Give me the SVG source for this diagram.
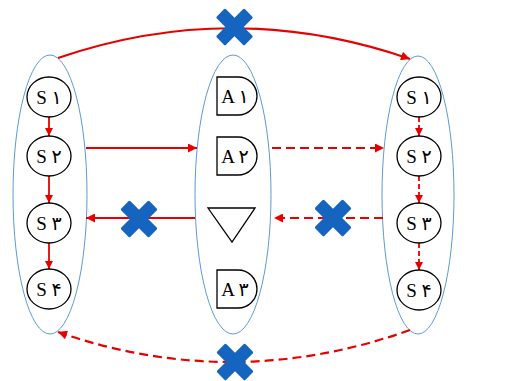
<svg xmlns="http://www.w3.org/2000/svg" width="525" height="381" viewBox="0 0 525 381">
  <style>
    .lane { fill: none; stroke: #5b9bd5; stroke-width: 1; }
    .state { fill: #fff; stroke: #000; stroke-width: 1.3; }
    .gate { fill: #fff; stroke: #000; stroke-width: 1.3; }
    .lbl { font-family: "Liberation Serif", "DejaVu Sans", serif; font-size: 19px; fill: #000; text-anchor: middle; }
    .flow { fill: none; stroke: #e60000; stroke-width: 2.2; }
    .step { fill: none; stroke: #e60000; stroke-width: 1.8; }
    .dash { stroke-dasharray: 9 5; }
    .sdash { stroke-dasharray: 5 3; }
    .cross { fill: #1565c0; }
  </style>
  <defs>
    <marker id="head" viewBox="0 0 10 10" refX="10" refY="5" markerWidth="10" markerHeight="9" markerUnits="userSpaceOnUse" orient="auto">
      <path d="M0,0 L10,5 L0,10 Z" fill="#e60000"/>
    </marker>
    <marker id="headS" viewBox="0 0 10 10" refX="10" refY="5" markerWidth="8" markerHeight="8" markerUnits="userSpaceOnUse" orient="auto">
      <path d="M0,0 L10,5 L0,10 Z" fill="#e60000"/>
    </marker>
    <g id="x">
      <rect x="-20" y="-6.5" width="40" height="13" rx="1.5" transform="rotate(45)"/>
      <rect x="-20" y="-6.5" width="40" height="13" rx="1.5" transform="rotate(-45)"/>
    </g>
  </defs>

  <!-- lanes -->
  <g id="lane-left"><ellipse class="lane" cx="50" cy="194.5" rx="37" ry="139.5"/></g>
  <g id="lane-mid"><ellipse class="lane" cx="233" cy="194.5" rx="38" ry="139.5"/></g>
  <g id="lane-right"><ellipse class="lane" cx="418" cy="195" rx="36" ry="139"/></g>

  <!-- connectors -->
  <g id="connectors">
    <path class="flow" d="M58,58 Q233,-2 410,59" marker-end="url(#head)"/>
    <path class="flow dash" d="M410,330 Q233,393 58,332" marker-end="url(#head)"/>
    <path class="flow" d="M86,148 H197" marker-end="url(#head)"/>
    <path class="flow dash" d="M272,148 H384" marker-end="url(#head)"/>
    <path class="flow" d="M195,218 H86" marker-end="url(#head)"/>
    <path class="flow dash" d="M383,218 H274" marker-end="url(#head)"/>
    <path class="step" d="M49,117 V136" marker-end="url(#headS)"/>
    <path class="step" d="M49,176 V203" marker-end="url(#headS)"/>
    <path class="step" d="M49,243 V269" marker-end="url(#headS)"/>
    <path class="step sdash" d="M419,117 V136" marker-end="url(#headS)"/>
    <path class="step sdash" d="M419,176 V203" marker-end="url(#headS)"/>
    <path class="step sdash" d="M419,243 V270" marker-end="url(#headS)"/>
  </g>

  <!-- source states -->
  <g id="s1-left"><ellipse class="state" cx="49" cy="97" rx="22" ry="20"/><text class="lbl" x="49" y="104">S ۱</text></g>
  <g id="s2-left"><ellipse class="state" cx="49" cy="156" rx="22" ry="20"/><text class="lbl" x="49" y="163">S ۲</text></g>
  <g id="s3-left"><ellipse class="state" cx="49" cy="223" rx="22" ry="20"/><text class="lbl" x="49" y="230">S ۳</text></g>
  <g id="s4-left"><ellipse class="state" cx="49" cy="289" rx="22" ry="20"/><text class="lbl" x="49" y="296">S ۴</text></g>

  <!-- actions -->
  <g id="a1"><path class="gate" d="M217,77 H238 A19,19 0 0 1 238,115 H217 Z"/><text class="lbl" x="235" y="103">A ۱</text></g>
  <g id="a2"><path class="gate" d="M217,137 H238 A19,19 0 0 1 238,175 H217 Z"/><text class="lbl" x="235" y="163">A ۲</text></g>
  <g id="merge"><path class="gate" d="M208,208 H255 L232,242 Z"/></g>
  <g id="a3"><path class="gate" d="M217,270 H238 A19,19 0 0 1 238,308 H217 Z"/><text class="lbl" x="235" y="296">A ۳</text></g>

  <!-- target states -->
  <g id="s1-right"><ellipse class="state" cx="419" cy="97" rx="22" ry="20"/><text class="lbl" x="419" y="104">S ۱</text></g>
  <g id="s2-right"><ellipse class="state" cx="419" cy="156" rx="22" ry="20"/><text class="lbl" x="419" y="163">S ۲</text></g>
  <g id="s3-right"><ellipse class="state" cx="419" cy="223" rx="22" ry="20"/><text class="lbl" x="419" y="230">S ۳</text></g>
  <g id="s4-right"><ellipse class="state" cx="419" cy="290" rx="22" ry="20"/><text class="lbl" x="419" y="297">S ۴</text></g>

  <!-- blocked marks -->
  <g id="block-top" class="cross"><use href="#x" x="234.5" y="27"/></g>
  <g id="block-bottom" class="cross"><use href="#x" x="235" y="362"/></g>
  <g id="block-left" class="cross"><use href="#x" x="139" y="219"/></g>
  <g id="block-right" class="cross"><use href="#x" x="333" y="218"/></g>
</svg>
